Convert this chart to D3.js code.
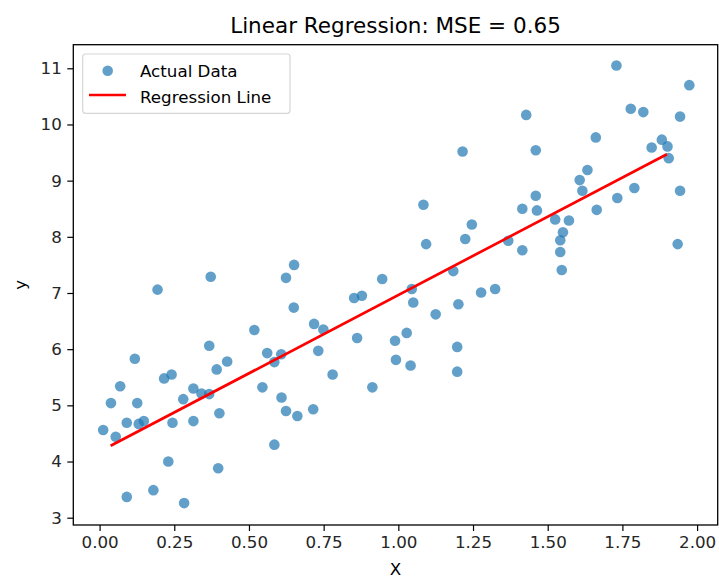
<!DOCTYPE html>
<html>
<head>
<meta charset="utf-8">
<script src="https://cdn.jsdelivr.net/npm/d3@7"></script>
<style>
  html, body { margin: 0; padding: 0; background: #fff; }
  svg { display: block; font-family: "DejaVu Sans", sans-serif; }
</style>
</head>
<body>
<svg id="chart" width="719" height="578"></svg>
<script>
// ---- data ----
const pointX = [0.012,0.038,0.054,0.069,0.091,0.091,0.118,0.126,0.131,0.148,
  0.180,0.194,0.216,0.241,0.230,0.244,0.280,0.283,0.314,0.314,
  0.341,0.367,0.367,0.372,0.392,0.401,0.397,0.427,0.518,0.545,
  0.561,0.585,0.585,0.608,0.609,0.624,0.624,0.651,0.650,0.662,
  0.718,0.715,0.732,0.749,0.780,0.852,0.878,0.862,0.913,0.946,
  0.989,0.992,1.028,1.041,1.045,1.050,1.084,1.093,1.125,1.184,
  1.201,1.197,1.197,1.215,1.224,1.246,1.277,1.324,1.368,1.415,
  1.415,1.428,1.460,1.460,1.464,1.525,1.551,1.542,1.542,1.547,
  1.571,1.607,1.616,1.633,1.661,1.664,1.730,1.733,1.778,1.790,
  1.820,1.848,1.882,1.901,1.905,1.935,1.943,1.943,1.974];
const pointY = [4.56,5.04,4.44,5.34,4.69,3.37,5.83,5.04,4.67,4.72,
  3.49,7.06,5.48,5.55,4.00,4.69,5.11,3.26,5.30,4.72,
  5.21,5.20,6.06,7.29,5.64,4.86,3.88,5.78,6.34,5.32,
  5.93,5.77,4.30,5.91,5.14,4.90,7.27,7.50,6.74,4.81,
  6.45,4.93,5.97,6.35,5.55,6.91,6.95,6.20,5.32,7.25,
  6.15,5.81,6.29,5.71,7.07,6.83,8.57,7.87,6.62,7.39,
  6.80,6.04,5.60,9.52,7.96,8.22,7.01,7.07,7.93,7.76,
  8.50,10.17,9.54,8.73,8.47,8.31,8.08,7.94,7.73,7.41,
  8.29,9.01,8.82,9.19,9.77,8.48,11.05,8.69,10.28,8.87,
  10.22,9.59,9.73,9.61,9.40,7.87,10.14,8.82,10.70];
const lineX = [0.037, 1.899];
const lineY = [4.28, 9.47];
const xTicks = [0, 0.25, 0.5, 0.75, 1.0, 1.25, 1.5, 1.75, 2.0];
const yTicks = [3, 4, 5, 6, 7, 8, 9, 10, 11];
const xLimits = [-0.088, 2.069];
const yLimits = [2.87, 11.42];
const titleText = "Linear Regression: MSE = 0.65";
const xLabel = "X";
const yLabel = "y";
const seriesNames = ["Actual Data", "Regression Line"];

// ---- layout ----
const svg = d3.select("#chart");
const pL = 73.3, pT = 44.7, pR = 717.7, pB = 525;
const x = d3.scaleLinear().domain(xLimits).range([pL, pR]);
const y = d3.scaleLinear().domain(yLimits).range([pB, pT]);
const blue = "#1f77b4";

// points
const pts = pointX.map((v, i) => ({x: v, y: pointY[i]}));
svg.append("g").selectAll("circle").data(pts).join("circle")
  .attr("cx", d => x(d.x)).attr("cy", d => y(d.y))
  .attr("r", 5.3).attr("fill", blue).attr("fill-opacity", 0.7);

// regression line
const lpts = lineX.map((v, i) => [v, lineY[i]]);
svg.append("path").datum(lpts)
  .attr("d", d3.line().x(d => x(d[0])).y(d => y(d[1])))
  .attr("stroke", "red").attr("stroke-width", 2.7).attr("fill", "none");

// axes
const fs = 16.7;
const xAxis = svg.append("g").attr("transform", `translate(0,${pB})`)
  .call(d3.axisBottom(x).tickValues(xTicks).tickFormat(d3.format(".2f")).tickSize(6).tickPadding(5.5));
const yAxis = svg.append("g").attr("transform", `translate(${pL},0)`)
  .call(d3.axisLeft(y).tickValues(yTicks).tickFormat(d3.format("d")).tickSize(6).tickPadding(5.5));
[xAxis, yAxis].forEach(g => {
  g.select(".domain").remove();
  g.selectAll(".tick line").attr("stroke", "#000").attr("stroke-width", 1.2);
  g.selectAll(".tick text").attr("font-size", fs).attr("fill", "#262626")
    .attr("font-family", "DejaVu Sans");
});

// frame
svg.append("rect").attr("x", pL).attr("y", pT)
  .attr("width", pR - pL).attr("height", pB - pT)
  .attr("fill", "none").attr("stroke", "#000").attr("stroke-width", 1.3);

// labels
svg.append("text").attr("x", (pL + pR) / 2).attr("y", 33)
  .attr("text-anchor", "middle").attr("font-size", 21.5).attr("fill", "#000").text(titleText);
svg.append("text").attr("x", (pL + pR) / 2).attr("y", 574.5)
  .attr("text-anchor", "middle").attr("font-size", fs).attr("fill", "#000").text(xLabel);
svg.append("text").attr("transform", `translate(26,${(pT + pB) / 2}) rotate(-90)`)
  .attr("text-anchor", "middle").attr("font-size", fs).attr("fill", "#000").text(yLabel);

// legend
const lg = svg.append("g");
lg.append("rect").attr("x", 82.7).attr("y", 54).attr("width", 207.3).attr("height", 59.3)
  .attr("rx", 3).attr("fill", "#fff").attr("fill-opacity", 0.8)
  .attr("stroke", "#d6d6d6").attr("stroke-width", 1.2);
lg.append("circle").attr("cx", 107.7).attr("cy", 70.7).attr("r", 5.3)
  .attr("fill", blue).attr("fill-opacity", 0.7);
lg.append("line").attr("x1", 89).attr("x2", 126).attr("y1", 95).attr("y2", 95)
  .attr("stroke", "red").attr("stroke-width", 2.5);
lg.append("text").attr("x", 140).attr("y", 76.5).attr("font-size", fs).attr("fill", "#000").text(seriesNames[0]);
lg.append("text").attr("x", 140).attr("y", 102.5).attr("font-size", fs).attr("fill", "#000").text(seriesNames[1]);
</script>
</body>
</html>
